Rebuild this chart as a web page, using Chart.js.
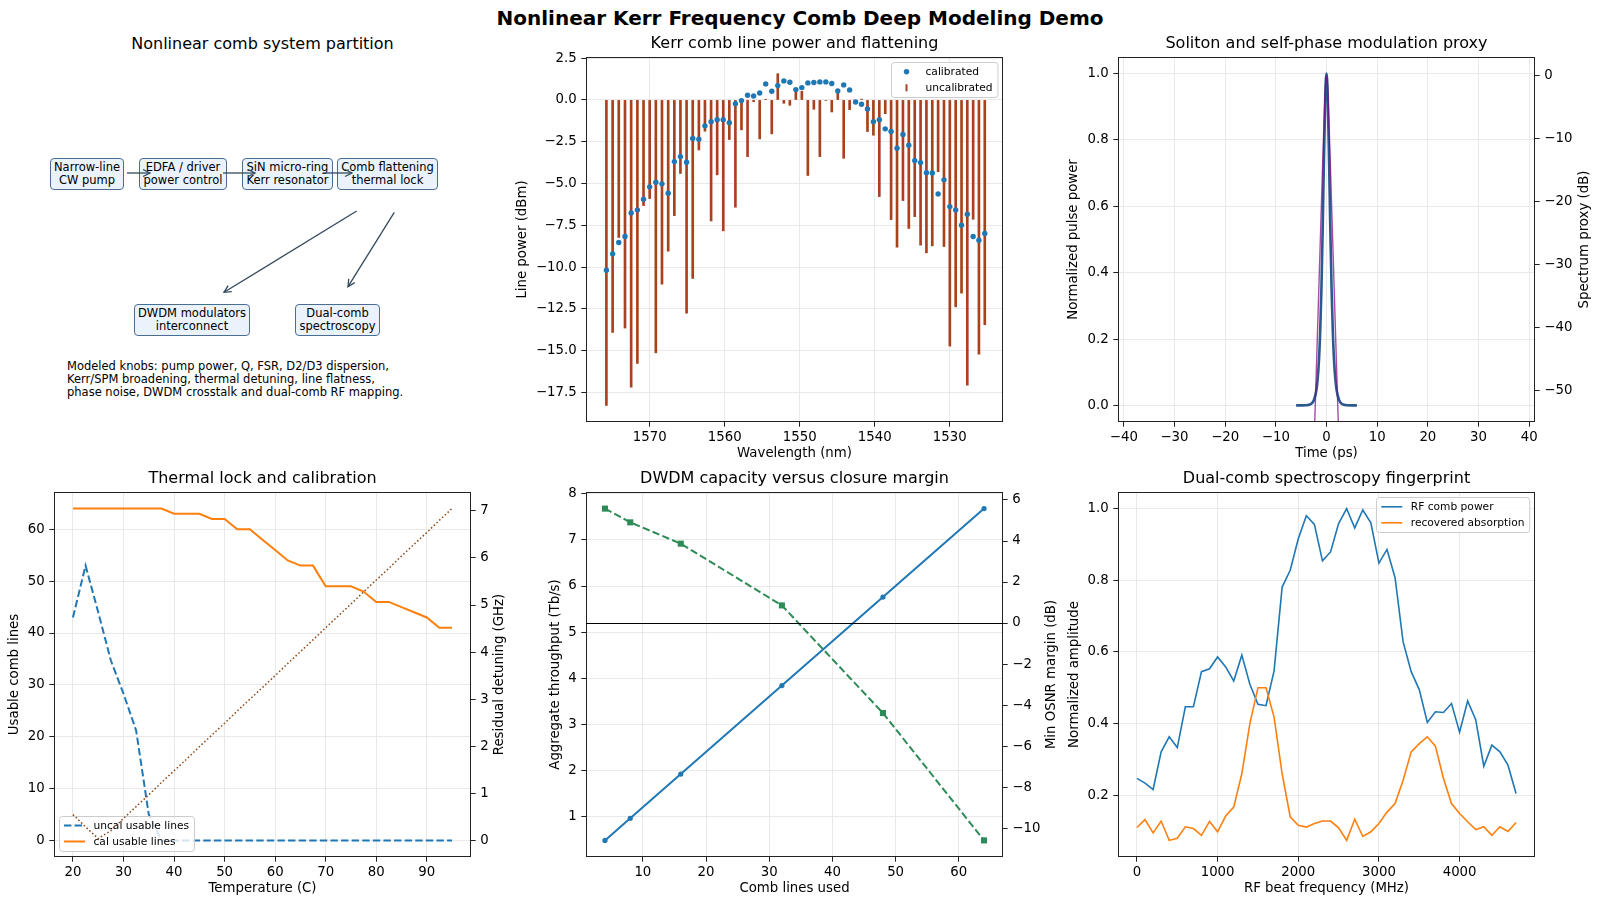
<!DOCTYPE html>
<html>
<head>
<meta charset="utf-8">
<script src="https://cdn.jsdelivr.net/npm/chart.js@4.4.1/dist/chart.umd.min.js"></script>
<style>
  body { margin: 0; background: #fff; }
  #fig { position: relative; width: 1600px; height: 907px; overflow: hidden; font-family: 'DejaVu Sans', sans-serif; color: #000; }
  #fig canvas { position: absolute; }
  .sup { position: absolute; left: 0; top: 6px; width: 1600px; text-align: center; font-size: 20px; line-height: 24px; font-weight: bold; }
  .ptitle { position: absolute; text-align: center; font-size: 16px; line-height: 19px; }
  .blk { position: absolute; box-sizing: border-box; border: 1.3px solid #4a6d94; border-radius: 4px; background: #eaf2fb;
         font-size: 11.5px; line-height: 13px; display: flex; align-items: center; justify-content: center; text-align: center; }
  .knobs { position: absolute; left: 67px; top: 360px; font-size: 11.5px; line-height: 13px; white-space: nowrap; }
  #arrows { position: absolute; left: 0; top: 0; }
</style>
</head>
<body>
<div id="fig">
  <div class="sup">Nonlinear Kerr Frequency Comb Deep Modeling Demo</div>

  <!-- system partition diagram -->
  <div class="ptitle" style="left:54px;width:417px;top:34px">Nonlinear comb system partition</div>
  <div class="blk" style="left:50px;top:158px;width:74px;height:32px">Narrow-line<br>CW pump</div>
  <div class="blk" style="left:139px;top:158px;width:88px;height:32px">EDFA / driver<br>power control</div>
  <div class="blk" style="left:242px;top:158px;width:91px;height:32px">SiN micro-ring<br>Kerr resonator</div>
  <div class="blk" style="left:337px;top:158px;width:101px;height:32px">Comb flattening<br>thermal lock</div>
  <div class="blk" style="left:134px;top:304px;width:116px;height:32px">DWDM modulators<br>interconnect</div>
  <div class="blk" style="left:295px;top:304px;width:85px;height:32px">Dual-comb<br>spectroscopy</div>
  <svg id="arrows" width="480" height="420">
    <defs>
      <marker id="head" markerUnits="userSpaceOnUse" markerWidth="12" markerHeight="12" refX="0" refY="0" viewBox="-9 -6 12 12" orient="auto">
        <path d="M-7,-3.5 L0,0 L-7,3.5" fill="none" stroke="#34495e" stroke-width="1.3"/>
      </marker>
    </defs>
    <g stroke="#34495e" stroke-width="1.3" fill="none" marker-end="url(#head)">
      <line x1="127" y1="173" x2="150" y2="173"/>
      <line x1="223" y1="173" x2="255" y2="173"/>
      <line x1="323" y1="173" x2="352" y2="173"/>
      <line x1="356.7" y1="211" x2="224" y2="292.3"/>
      <line x1="394.3" y1="212.3" x2="348" y2="286.7"/>
    </g>
  </svg>
  <div class="knobs">Modeled knobs: pump power, Q, FSR, D2/D3 dispersion,<br>Kerr/SPM broadening, thermal detuning, line flatness,<br>phase noise, DWDM crosstalk and dual-comb RF mapping.</div>
</div>

<script>
// ---- Kerr comb line power ----
const combWavelengthNm = [
  1575.78, 1574.95, 1574.13, 1573.30, 1572.48, 1571.65, 1570.83, 1570.01, 1569.19, 1568.37,
  1567.54, 1566.72, 1565.91, 1565.09, 1564.27, 1563.45, 1562.64, 1561.82, 1561.01, 1560.20,
  1559.39, 1558.58, 1557.77, 1556.96, 1556.15, 1555.34, 1554.54, 1553.73, 1552.93, 1552.12,
  1551.32, 1550.52, 1549.72, 1548.92, 1548.12, 1547.32, 1546.52, 1545.73, 1544.93, 1544.14,
  1543.35, 1542.55, 1541.76, 1540.97, 1540.18, 1539.39, 1538.60, 1537.82, 1537.03, 1536.24,
  1535.46, 1534.67, 1533.89, 1533.11, 1532.33, 1531.55, 1530.77, 1529.99, 1529.21, 1528.43,
  1527.66, 1526.88, 1526.11, 1525.33];
const calibratedDbm = [
  -10.19, -9.21, -8.53, -8.17, -6.76, -6.58, -5.94, -5.20, -4.92, -5.02,
  -5.58, -3.69, -3.39, -3.73, -2.31, -2.35, -1.55, -1.30, -1.18, -1.18,
  -1.36, -0.22, -0.04, 0.28, 0.24, 0.42, 0.96, 0.52, 0.86, 1.14,
  1.06, 0.62, 0.74, 1.02, 1.04, 1.08, 1.08, 0.98, 0.54, 0.90,
  0.60, -0.12, -0.26, -0.54, -1.30, -1.18, -1.73, -1.89, -2.89, -2.07,
  -2.71, -3.63, -3.75, -4.35, -4.37, -5.62, -4.78, -6.38, -6.58, -7.49,
  -6.84, -8.17, -8.39, -7.99];
const uncalibratedDbm = [
  -18.28, -13.91, -8.23, -13.65, -17.18, -15.77, -6.32, -5.90, -15.13, -11.02,
  -9.05, -6.92, -4.40, -12.76, -10.68, -2.99, -1.87, -7.24, -4.48, -7.83,
  -2.37, -6.42, -1.79, -3.39, -0.10, -2.33, 0.04, -2.03, 1.57, -0.20,
  -0.32, 0.52, 0.52, -4.52, -0.56, -3.39, -0.02, -0.72, 0.46, -3.49,
  -0.58, -0.10, 0.05, -1.89, -2.11, -5.78, -0.82, -7.16, -8.81, -6.02,
  -7.69, -6.98, -8.69, -9.15, -8.73, -4.29, -8.77, -14.73, -12.38, -11.56,
  -17.06, -7.14, -15.21, -13.45];
const wavelengthTicks = [1570, 1560, 1550, 1540, 1530];
const linePowerTicks = [2.5, 0, -2.5, -5, -7.5, -10, -12.5, -15, -17.5];

// ---- soliton pulse ----
const pulseTimePs = [-6, -5, -4, -3, -2.5, -2, -1.75, -1.5, -1.25, -1, -0.75, -0.5, -0.25, -0.125, 0,
  0.125, 0.25, 0.5, 0.75, 1, 1.25, 1.5, 1.75, 2, 2.5, 3, 4, 5, 6];
const pulsePower = [0, 0.0001, 0.0006, 0.0051, 0.0154, 0.0459, 0.0786, 0.1325, 0.2204, 0.3528, 0.5344, 0.7447, 0.9265, 0.981, 1,
  0.981, 0.9265, 0.7447, 0.5344, 0.3528, 0.2204, 0.1325, 0.0786, 0.0459, 0.0154, 0.0051, 0.0006, 0.0001, 0];
const spectrumTimePs = [-2.5, -2, -1.5, -1, -0.75, -0.5, -0.25, -0.1, 0, 0.1, 0.25, 0.5, 0.75, 1, 1.5, 2, 2.5];
const spectrumDb = [-59.8, -46.6, -33.5, -20.3, -13.8, -7.55, -2.29, -0.39, 0, -0.39, -2.29, -7.55, -13.8, -20.3, -33.5, -46.6, -59.8];
const timeTicks = [-40, -30, -20, -10, 0, 10, 20, 30, 40];
const pulseTicks = [0, 0.2, 0.4, 0.6, 0.8, 1.0];
const spectrumTicks = [0, -10, -20, -30, -40, -50];

// ---- thermal lock ----
const temperatureC = [20, 22.5, 25, 27.5, 30, 32.5, 35, 37.5, 40, 42.5, 45, 47.5, 50, 52.5, 55, 57.5,
  60, 62.5, 65, 67.5, 70, 72.5, 75, 77.5, 80, 82.5, 85, 87.5, 90, 92.5, 95];
const uncalUsableLines = [43, 53, 44, 34.7, 28.3, 21.2, 5, 0, 0, 0, 0, 0, 0, 0, 0, 0,
  0, 0, 0, 0, 0, 0, 0, 0, 0, 0, 0, 0, 0, 0, 0];
const calUsableLines = [64, 64, 64, 64, 64, 64, 64, 64, 63, 63, 63, 62, 62, 60, 60, 58,
  56, 54, 53, 53, 49, 49, 49, 48, 46, 46, 45, 44, 43, 41, 41];
const detuningGHz = [0.55, 0.29, 0.04, 0.21, 0.47, 0.72, 0.97, 1.23, 1.48, 1.73, 1.99, 2.24, 2.49, 2.75, 3.00, 3.25,
  3.50, 3.76, 4.01, 4.26, 4.52, 4.77, 5.02, 5.28, 5.53, 5.78, 6.04, 6.29, 6.54, 6.80, 7.05];
const temperatureTicks = [20, 30, 40, 50, 60, 70, 80, 90];
const usableTicks = [0, 10, 20, 30, 40, 50, 60];
const detuningTicks = [0, 1, 2, 3, 4, 5, 6, 7];

// ---- DWDM capacity ----
const combLinesUsed = [4, 8, 16, 32, 48, 64];
const throughputTbps = [0.48, 0.96, 1.92, 3.84, 5.76, 7.68];
const osnrMarginDb = [5.58, 4.91, 3.87, 0.86, -4.39, -10.60];
const linesTicks = [10, 20, 30, 40, 50, 60];
const throughputTicks = [1, 2, 3, 4, 5, 6, 7, 8];
const marginTicks = [-10, -8, -6, -4, -2, 0, 2, 4, 6];

// ---- dual-comb spectroscopy ----
const rfBeatMHz = [0, 100, 200, 300, 400, 500, 600, 700, 800, 900, 1000, 1100, 1200, 1300, 1400, 1500,
  1600, 1700, 1800, 1900, 2000, 2100, 2200, 2300, 2400, 2500, 2600, 2700, 2800, 2900, 3000, 3100,
  3200, 3300, 3400, 3500, 3600, 3700, 3800, 3900, 4000, 4100, 4200, 4300, 4400, 4500, 4600, 4700];
const rfCombPower = [0.247, 0.234, 0.216, 0.321, 0.363, 0.333, 0.447, 0.447, 0.545, 0.553, 0.586, 0.558, 0.519, 0.591, 0.510, 0.454,
  0.450, 0.547, 0.781, 0.828, 0.916, 0.980, 0.956, 0.854, 0.879, 0.958, 1.000, 0.946, 0.996, 0.960, 0.848, 0.886,
  0.807, 0.628, 0.545, 0.495, 0.403, 0.433, 0.431, 0.456, 0.376, 0.463, 0.411, 0.281, 0.340, 0.321, 0.284, 0.205];
const recoveredAbsorption = [0.110, 0.132, 0.095, 0.128, 0.074, 0.080, 0.112, 0.107, 0.088, 0.127, 0.098, 0.142, 0.167, 0.260, 0.400, 0.500,
  0.500, 0.418, 0.260, 0.140, 0.116, 0.111, 0.121, 0.128, 0.128, 0.109, 0.074, 0.133, 0.085, 0.098, 0.121, 0.153,
  0.177, 0.242, 0.321, 0.344, 0.363, 0.337, 0.247, 0.177, 0.149, 0.126, 0.104, 0.112, 0.088, 0.112, 0.099, 0.124];
const rfTicks = [0, 1000, 2000, 3000, 4000];
const amplitudeTicks = [0.2, 0.4, 0.6, 0.8, 1.0];

Chart.defaults.font.family = "'DejaVu Sans', sans-serif";
Chart.defaults.color = '#000';

const TICK_FONT = 13.3;
const minus = s => String(s).replace('-', '\u2212');
const f0 = v => minus(Number(v).toFixed(0));
const f1 = v => minus(Number(v).toFixed(1));
const pts = (xs, ys) => xs.map((x, i) => ({ x: x, y: ys[i] }));

// box round the plot area, like the spines
const framePlugin = {
  id: 'frame',
  afterDatasetsDraw(chart) {
    const a = chart.chartArea, c = chart.ctx;
    c.save();
    c.strokeStyle = '#222';
    c.lineWidth = 1;
    c.strokeRect(a.left + 0.5, a.top + 0.5, a.right - a.left - 1, a.bottom - a.top - 1);
    c.restore();
  }
};

// legend drawn inside the plot area
const boxLegend = {
  id: 'boxLegend',
  afterDatasetDraw(chart, args, opts) {
    if (!opts.items || args.index !== opts.afterIndex) return;
    const c = chart.ctx, a = chart.chartArea;
    c.save();
    c.font = "10.67px 'DejaVu Sans'";
    let tw = 0;
    for (let i = 0; i < opts.items.length; i++) tw = Math.max(tw, c.measureText(opts.items[i].label).width);
    const w = 34.5 + tw + 5, h = 35;
    const x0 = opts.corner === 'bl' ? a.left + opts.dx : a.right - opts.dx - w;
    const y0 = opts.corner === 'bl' ? a.bottom - opts.dy - h : a.top + opts.dy;
    c.fillStyle = 'rgba(255,255,255,0.8)';
    c.strokeStyle = '#cccccc';
    c.lineWidth = 1;
    c.beginPath();
    c.roundRect(Math.round(x0) + 0.5, Math.round(y0) + 0.5, w, h, 3);
    c.fill();
    c.stroke();
    for (let i = 0; i < opts.items.length; i++) {
      const it = opts.items[i];
      const yc = y0 + 9.5 + i * 16;
      if (it.kind === 'dot') {
        c.fillStyle = it.color;
        c.beginPath(); c.arc(x0 + 15.5, yc, 2.7, 0, Math.PI * 2); c.fill();
      } else if (it.kind === 'vbar') {
        c.fillStyle = it.color;
        c.fillRect(x0 + 14.5, yc - 3.5, 2, 7);
      } else {
        c.strokeStyle = it.color;
        c.lineWidth = it.width || 2;
        c.setLineDash(it.dash ? [it.dash[0], it.dash[1]] : []);
        c.beginPath(); c.moveTo(x0 + 5, yc); c.lineTo(x0 + 26, yc); c.stroke();
        c.setLineDash([]);
      }
      c.fillStyle = '#000';
      c.textBaseline = 'middle';
      c.textAlign = 'left';
      c.fillText(it.label, x0 + 34.5, yc + 0.5);
    }
    c.restore();
  }
};

// right y-axis title reading bottom to top, like matplotlib
const rightTitle = {
  id: 'rightTitle',
  afterDraw(chart, args, opts) {
    if (!opts.text) return;
    const a = chart.chartArea, c = chart.ctx;
    c.save();
    c.font = TICK_FONT + "px 'DejaVu Sans'";
    c.fillStyle = '#000';
    c.textAlign = 'center';
    c.textBaseline = 'middle';
    c.translate(a.right + opts.gap, (a.top + a.bottom) / 2);
    c.rotate(-Math.PI / 2);
    c.fillText(opts.text, 0, 0);
    c.restore();
  }
};

// horizontal reference line (axhline)
const refLine = {
  id: 'refLine',
  afterDatasetsDraw(chart, args, opts) {
    if (opts.value === undefined) return;
    const a = chart.chartArea, c = chart.ctx;
    const y = Math.round(chart.scales[opts.scaleID].getPixelForValue(opts.value)) + 0.5;
    c.save();
    c.strokeStyle = '#000';
    c.lineWidth = 1.2;
    c.beginPath(); c.moveTo(a.left, y); c.lineTo(a.right, y); c.stroke();
    c.restore();
  }
};

Chart.register(framePlugin, boxLegend, rightTitle, refLine);

function axis(o) {
  const bottom = o.pos === 'bottom';
  return {
    type: 'linear',
    position: o.pos,
    min: o.min,
    max: o.max,
    reverse: !!o.reverse,
    offset: false,
    grid: { display: true, offset: false, drawOnChartArea: o.grid !== false, color: '#e6e6e6', lineWidth: 0.9,
            tickColor: '#222', tickLength: 4.7, tickWidth: 1 },
    border: { display: false },
    ticks: { color: '#000', font: { size: TICK_FONT }, padding: bottom ? 2.6 : 4.6, maxRotation: 0,
             autoSkip: false, callback: o.fmt },
    afterBuildTicks: s => { s.ticks = o.ticks.map(v => ({ value: v })); },
    afterFit: s => { if (bottom) s.height = o.size; else s.width = o.size; },
    title: (o.title && o.pos !== 'right')
      ? { display: true, text: o.title, color: '#000', font: { size: TICK_FONT }, padding: 0 }
      : { display: false }
  };
}

function panel(box, cfg) {
  const pad = 80, padT = 42, padB = 44;
  const cv = document.createElement('canvas');
  const w = box.R - box.L + 2 * pad, h = box.B - box.T + padT + padB;
  cv.width = w; cv.height = h;
  cv.style.left = (box.L - pad) + 'px';
  cv.style.top = (box.T - padT) + 'px';
  cv.style.width = w + 'px';
  cv.style.height = h + 'px';
  document.getElementById('fig').appendChild(cv);
  const o = cfg.options;
  o.responsive = false;
  o.devicePixelRatio = 1;
  o.animation = false;
  o.events = [];
  o.layout = { padding: { left: pad - box.yW, right: box.y2W ? pad - box.y2W : pad, top: 0, bottom: padB - 40 } };
  o.plugins = o.plugins || {};
  // title centred over the plot area, not the whole canvas
  o.plugins.title = { display: true, fullSize: false, text: box.title, color: '#000', font: { size: 16, weight: 'normal' },
                      padding: { top: 18.9, bottom: 3.9 } };
  o.plugins.legend = { display: false };
  o.plugins.tooltip = { enabled: false };
  return new Chart(cv, cfg);
}

// ---- top middle: comb line power ----
panel({ L: 586, R: 1003, T: 57, B: 422, yW: 71, title: 'Kerr comb line power and flattening' }, {
  type: 'bar',
  data: {
    datasets: [
      { type: 'scatter', label: 'calibrated', data: pts(combWavelengthNm, calibratedDbm), order: 0,
        pointRadius: 2.7, pointBackgroundColor: '#1f77b4', pointBorderWidth: 0, showLine: false },
      { type: 'bar', label: 'uncalibrated', data: pts(combWavelengthNm, uncalibratedDbm), order: 1,
        backgroundColor: '#a9411f', borderWidth: 0, barThickness: 2 }
    ]
  },
  options: {
    scales: {
      x: axis({ pos: 'bottom', min: 1522.9, max: 1578.5, reverse: true, ticks: wavelengthTicks, fmt: f0, size: 40, title: 'Wavelength (nm)' }),
      y: axis({ pos: 'left', min: -19.27, max: 2.57, ticks: linePowerTicks, fmt: f1, size: 71, title: 'Line power (dBm)' })
    },
    plugins: {
      boxLegend: { corner: 'tr', dx: 5.5, dy: 5.3, afterIndex: 0, items: [
        { label: 'calibrated', kind: 'dot', color: '#1f77b4' },
        { label: 'uncalibrated', kind: 'vbar', color: '#a9411f' }] }
    }
  }
});

// ---- top right: soliton pulse ----
panel({ L: 1118, R: 1535, T: 57, B: 422, yW: 52, y2W: 57.5, title: 'Soliton and self-phase modulation proxy' }, {
  type: 'line',
  data: {
    datasets: [
      { label: 'spectrum proxy', data: pts(spectrumTimePs, spectrumDb), yAxisID: 'y2', order: 0,
        borderColor: 'rgba(128,0,128,0.7)', borderWidth: 1.4, pointRadius: 0, cubicInterpolationMode: 'monotone' },
      { label: 'pulse', data: pts(pulseTimePs, pulsePower), yAxisID: 'y', order: 1,
        borderColor: '#2c5a8e', borderWidth: 2.6, pointRadius: 0, cubicInterpolationMode: 'monotone' }
    ]
  },
  options: {
    scales: {
      x: axis({ pos: 'bottom', min: -41.15, max: 41.15, ticks: timeTicks, fmt: f0, size: 40, title: 'Time (ps)' }),
      y: axis({ pos: 'left', min: -0.05, max: 1.05, ticks: pulseTicks, fmt: f1, size: 52, title: 'Normalized pulse power' }),
      y2: axis({ pos: 'right', min: -55, max: 3, ticks: spectrumTicks, fmt: f0, size: 57.5, grid: false })
    },
    plugins: { rightTitle: { text: 'Spectrum proxy (dB)', gap: 49.5 } }
  }
});

// ---- bottom left: thermal lock ----
panel({ L: 54, R: 471, T: 492, B: 857, yW: 47.5, y2W: 37, title: 'Thermal lock and calibration' }, {
  type: 'line',
  data: {
    datasets: [
      { label: 'uncal usable lines', data: pts(temperatureC, uncalUsableLines), yAxisID: 'y', order: 2,
        borderColor: '#1f77b4', borderWidth: 2, borderDash: [7.4, 3.2], pointRadius: 0 },
      { label: 'cal usable lines', data: pts(temperatureC, calUsableLines), yAxisID: 'y', order: 1,
        borderColor: '#ff7f0e', borderWidth: 2, pointRadius: 0 },
      { label: 'residual detuning', data: pts(temperatureC, detuningGHz), yAxisID: 'y2', order: 0,
        borderColor: '#8b4513', borderWidth: 1.5, borderDash: [1.5, 2.3], pointRadius: 0 }
    ]
  },
  options: {
    scales: {
      x: axis({ pos: 'bottom', min: 16.25, max: 98.75, ticks: temperatureTicks, fmt: f0, size: 40, title: 'Temperature (C)' }),
      y: axis({ pos: 'left', min: -3.2, max: 67.2, ticks: usableTicks, fmt: f0, size: 47.5, title: 'Usable comb lines' }),
      y2: axis({ pos: 'right', min: -0.35, max: 7.4, ticks: detuningTicks, fmt: f0, size: 37, grid: false })
    },
    plugins: {
      rightTitle: { text: 'Residual detuning (GHz)', gap: 29 },
      boxLegend: { corner: 'bl', dx: 5, dy: 6, afterIndex: 1, items: [
        { label: 'uncal usable lines', kind: 'line', color: '#1f77b4', dash: [7.4, 3.2], width: 2 },
        { label: 'cal usable lines', kind: 'line', color: '#ff7f0e', width: 2 }] }
    }
  }
});

// ---- bottom middle: DWDM capacity ----
panel({ L: 586, R: 1003, T: 492, B: 857, yW: 38.5, y2W: 57, title: 'DWDM capacity versus closure margin' }, {
  type: 'line',
  data: {
    datasets: [
      { label: 'throughput', data: pts(combLinesUsed, throughputTbps), yAxisID: 'y', order: 1,
        borderColor: '#1f77b4', borderWidth: 2, pointRadius: 2.6, pointBackgroundColor: '#1f77b4', pointBorderWidth: 0 },
      { label: 'OSNR margin', data: pts(combLinesUsed, osnrMarginDb), yAxisID: 'y2', order: 0,
        borderColor: '#2e8b57', borderWidth: 2, borderDash: [7.4, 3.2], pointStyle: 'rect', pointRadius: 4.3,
        pointBackgroundColor: '#2e8b57', pointBorderWidth: 0 }
    ]
  },
  options: {
    scales: {
      x: axis({ pos: 'bottom', min: 1, max: 67, ticks: linesTicks, fmt: f0, size: 40, title: 'Comb lines used' }),
      y: axis({ pos: 'left', min: 0.12, max: 8.04, ticks: throughputTicks, fmt: f0, size: 38.5, title: 'Aggregate throughput (Tb/s)' }),
      y2: axis({ pos: 'right', min: -11.41, max: 6.39, ticks: marginTicks, fmt: f0, size: 57, grid: false })
    },
    plugins: {
      rightTitle: { text: 'Min OSNR margin (dB)', gap: 49 },
      refLine: { scaleID: 'y2', value: 0 }
    }
  }
});

// ---- bottom right: dual-comb spectroscopy ----
panel({ L: 1118, R: 1535, T: 492, B: 857, yW: 51.5, title: 'Dual-comb spectroscopy fingerprint' }, {
  type: 'line',
  data: {
    datasets: [
      { label: 'RF comb power', data: pts(rfBeatMHz, rfCombPower), order: 1,
        borderColor: '#1f77b4', borderWidth: 1.6, pointRadius: 0 },
      { label: 'recovered absorption', data: pts(rfBeatMHz, recoveredAbsorption), order: 0,
        borderColor: '#ff7f0e', borderWidth: 1.6, pointRadius: 0 }
    ]
  },
  options: {
    scales: {
      x: axis({ pos: 'bottom', min: -235, max: 4935, ticks: rfTicks, fmt: f0, size: 40, title: 'RF beat frequency (MHz)' }),
      y: axis({ pos: 'left', min: 0.0277, max: 1.0463, ticks: amplitudeTicks, fmt: f1, size: 51.5, title: 'Normalized amplitude' })
    },
    plugins: {
      boxLegend: { corner: 'tr', dx: 5.5, dy: 5.3, afterIndex: 1, items: [
        { label: 'RF comb power', kind: 'line', color: '#1f77b4', width: 1.6 },
        { label: 'recovered absorption', kind: 'line', color: '#ff7f0e', width: 1.6 }] }
    }
  }
});
</script>
</body>
</html>
